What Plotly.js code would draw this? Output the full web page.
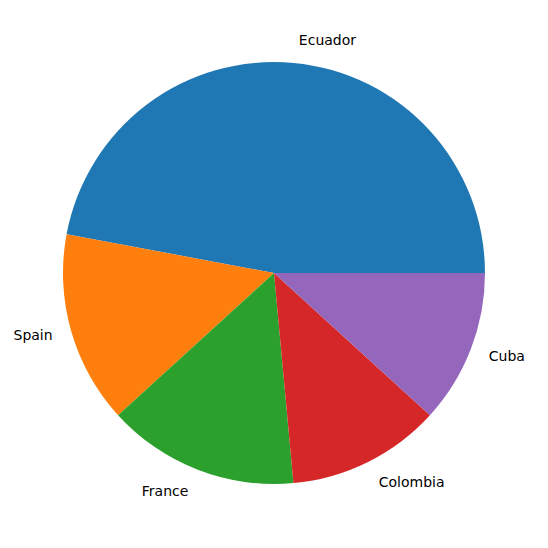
<!DOCTYPE html>
<html>
<head>
<meta charset="utf-8">
<script src="https://cdn.plot.ly/plotly-3.0.1.min.js"></script>
<style>html,body{margin:0;padding:0;background:#fff;}</style>
</head>
<body>
<div id="chart" style="width:548px;height:548px;"></div>
<script>
const countries = ["Ecuador", "Spain", "France", "Colombia", "Cuba"];
const counts = [16, 5, 5, 4, 4];
const sliceColors = ["#1f77b4", "#ff7f0e", "#2ca02c", "#d62728", "#9467bd"];

// matplotlib: start at 3 o'clock, counterclockwise. Plotly ccw: first slice ENDS at rotation.
const total = counts.reduce((a, b) => a + b, 0);
const rot = 90 - 360 * counts[0] / total;

const inner = 211 / 226 / 2;
const fontSpec = {family: "DejaVu Sans", size: 14, color: "#000"};

Plotly.newPlot("chart", [{
  type: "pie",
  labels: countries,
  values: counts,
  sort: false,
  direction: "counterclockwise",
  rotation: rot,
  domain: {x: [0.5 - inner, 0.5 + inner], y: [0.5 - inner, 0.5 + inner]},
  marker: {colors: sliceColors, line: {width: 0}},
  textinfo: "none",
  hoverinfo: "label+value",
  showlegend: false
}, {
  type: "pie",
  labels: countries,
  values: counts,
  sort: false,
  direction: "counterclockwise",
  rotation: rot,
  domain: {x: [0, 1], y: [0, 1]},
  marker: {colors: countries.map(() => "rgba(0,0,0,0)"), line: {width: 0}},
  textinfo: "label",
  textposition: "outside",
  outsidetextfont: fontSpec,
  hoverinfo: "skip",
  showlegend: false
}], {
  width: 548, height: 548,
  margin: {l: 48, r: 48, t: 47, b: 49},
  paper_bgcolor: "#fff",
  font: fontSpec
}, {displayModeBar: false});
</script>
</body>
</html>
